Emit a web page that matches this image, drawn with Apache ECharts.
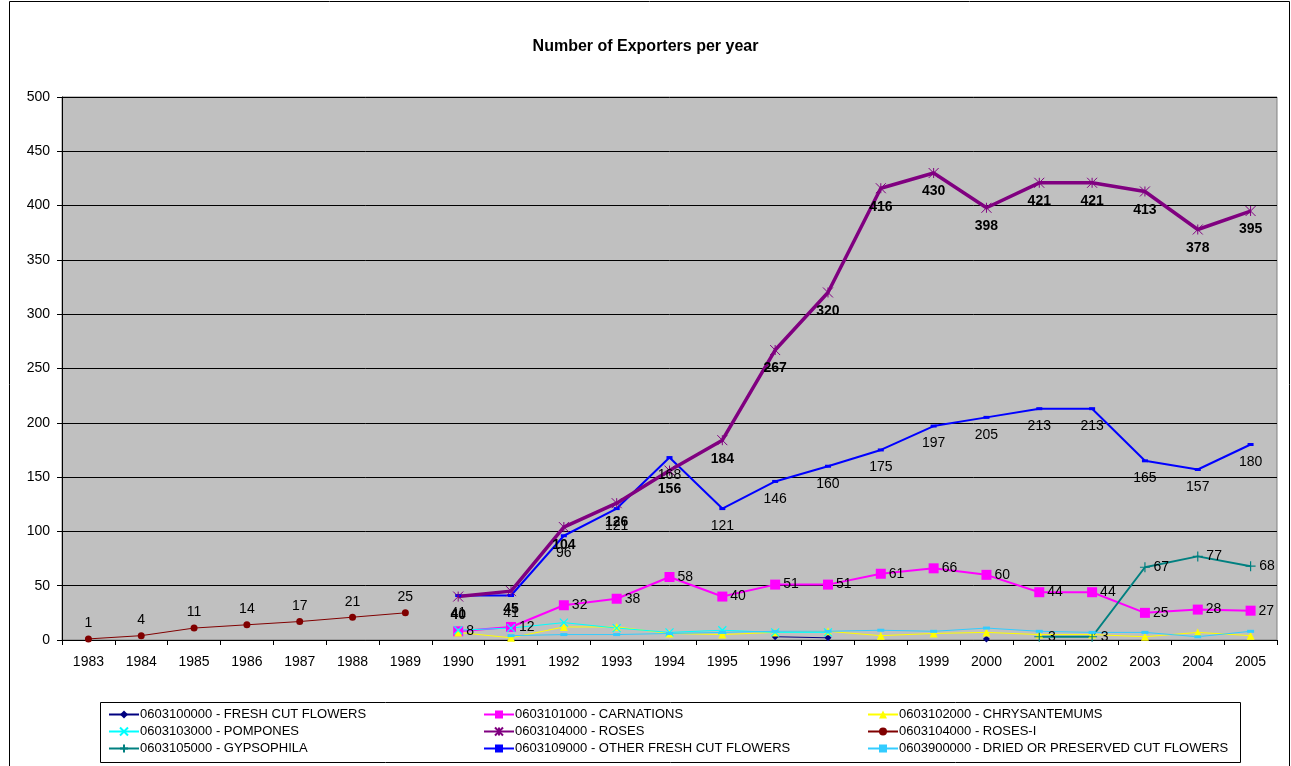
<!DOCTYPE html>
<html>
<head>
<meta charset="utf-8">
<script src="https://cdn.jsdelivr.net/npm/echarts@6/dist/echarts.min.js"></script>
<style>html,body{margin:0;padding:0;background:#fff}#c{width:1291px;height:766px}</style>
</head>
<body>
<div id="c"></div>
<script>
const years = ['1983','1984','1985','1986','1987','1988','1989','1990','1991','1992','1993','1994','1995','1996','1997','1998','1999','2000','2001','2002','2003','2004','2005'];
const yTicks = [0,50,100,150,200,250,300,350,400,450,500];
const freshCut      = [null,null,null,null,null,null,null,null,null,null,null,null,null,3,2,null,null,1,null,null,null,null,null];
const carnations    = [null,null,null,null,null,null,null,8,12,32,38,58,40,51,51,61,66,60,44,44,25,28,27];
const chrysantemums = [null,null,null,null,null,null,null,7,2,12,12,6,5,7,8,4,6,7,5,5,3,7,4];
const pompones      = [null,null,null,null,null,null,null,9,11,16,11,7,9,7,7,null,null,null,null,null,null,null,null];
const roses         = [null,null,null,null,null,null,null,40,45,104,126,156,184,267,320,416,430,398,421,421,413,378,395];
const rosesI        = [1,4,11,14,17,21,25,null,null,null,null,null,null,null,null,null,null,null,null,null,null,null,null];
const gypsophila    = [null,null,null,null,null,null,null,null,null,null,null,null,null,null,null,null,null,null,3,3,67,77,68];
const otherFresh    = [null,null,null,null,null,null,null,41,41,96,121,168,121,146,160,175,197,205,213,213,165,157,180];
const driedPreserved= [null,null,null,null,null,null,null,null,4,5,5,6,7,8,8,9,8,11,8,7,7,3,8];

const names = [
  '0603100000 - FRESH CUT FLOWERS','0603101000 - CARNATIONS','0603102000 - CHRYSANTEMUMS',
  '0603103000 - POMPONES','0603104000 - ROSES','0603104000 - ROSES-I',
  '0603105000 - GYPSOPHILA','0603109000 - OTHER FRESH CUT FLOWERS','0603900000 - DRIED OR PRESERVED CUT FLOWERS'
];
const FONT = 'Arial, "Liberation Sans", sans-serif';
const X_PATH = 'path://M0,0L10,10M10,0L0,10';
const AST_PATH = 'path://M0,0L10,10M10,0L0,10M5,0L5,10';
const PLUS_PATH = 'path://M5,0L5,10M0,5L10,5';

function lbl(pos, dist, bold){
  return {show:true, position:pos, distance:dist, color:'#000', fontFamily:FONT, fontSize:14, fontWeight: bold?'bold':'normal'};
}

const chart = echarts.init(document.getElementById('c'), null, {renderer:'canvas'});
const series = [
  {name:names[0], data:freshCut, color:'#000080', symbol:'diamond', symbolSize:7, lineStyle:{width:1}},
  {name:names[1], data:carnations, color:'#FF00FF', symbol:'rect', symbolSize:10, lineStyle:{width:2}, label:lbl('right',3)},
  {name:names[2], data:chrysantemums, color:'#FFFF00', symbol:'triangle', symbolSize:8, lineStyle:{width:1}},
  {name:names[3], data:pompones, color:'#00FFFF', symbol:X_PATH, symbolSize:8, lineStyle:{width:1}, itemStyle:{borderColor:'#00FFFF', borderWidth:1.2}},
  {name:names[5], data:rosesI, color:'#800000', symbol:'circle', symbolSize:7, lineStyle:{width:1}, label:lbl('top',5)},
  {name:names[6], data:gypsophila, color:'#008080', symbol:PLUS_PATH, symbolSize:10, lineStyle:{width:2}, itemStyle:{borderColor:'#008080', borderWidth:1.2}, label:lbl('right',3)},
  {name:names[8], data:driedPreserved, color:'#33CCFF', symbol:'rect', symbolSize:[7,3], lineStyle:{width:1}},
  {name:names[7], data:otherFresh, color:'#0000FF', symbol:'rect', symbolSize:[6,3], lineStyle:{width:2}, label:lbl('bottom',9)},
  {name:names[4], data:roses, color:'#800080', symbol:AST_PATH, symbolSize:10, lineStyle:{width:3.5}, itemStyle:{borderColor:'#800080', borderWidth:1}, label:lbl('bottom',6,true)}
].map(s => Object.assign({type:'line', connectNulls:false, animation:false, showAllSymbol:true}, s));

function legend(items, left){
  return {orient:'vertical', left:left, top:703, itemGap:4, itemWidth:30, itemHeight:10,
    data:items, textStyle:{fontFamily:FONT, fontSize:13, color:'#000', padding:[0,0,0,-4]}, selectedMode:false};
}

chart.setOption({
  backgroundColor:'#fff',
  animation:false,
  title:{text:'Number of Exporters per year', left:'center', top:34,
    textStyle:{fontFamily:FONT, fontSize:16, fontWeight:'bold', color:'#000'}},
  grid:{left:62, right:14, top:97, bottom:126, show:true, backgroundColor:'#C0C0C0', borderColor:'#808080', borderWidth:1},
  xAxis:{type:'category', data:years, boundaryGap:true,
    axisLine:{lineStyle:{color:'#000', width:1}},
    axisTick:{show:true, alignWithLabel:false, length:5, lineStyle:{color:'#000'}},
    axisLabel:{color:'#000', fontFamily:FONT, fontSize:14, margin:15, interval:0}},
  yAxis:{type:'value', min:yTicks[0], max:yTicks[yTicks.length-1], interval:50,
    axisLine:{show:true, lineStyle:{color:'#000'}},
    axisTick:{show:true, length:5, lineStyle:{color:'#000'}},
    axisLabel:{color:'#000', fontFamily:FONT, fontSize:14, margin:12},
    splitLine:{show:true, lineStyle:{color:'#000', width:1}}},
  legend:[
    legend([names[0],names[3],names[6]], 103),
    legend([names[1],names[4],names[7]], 478),
    legend([names[2],names[5],names[8]], 862)
  ],
  graphic:[
    {type:'rect', shape:{x:9.5, y:1.5, width:1280, height:770}, style:{fill:'none', stroke:'#000', lineWidth:1}, silent:true},
    {type:'rect', shape:{x:100.5, y:702.5, width:1140, height:60}, style:{fill:'none', stroke:'#000', lineWidth:1}, silent:true}
  ],
  series:series
});
</script>
</body>
</html>
